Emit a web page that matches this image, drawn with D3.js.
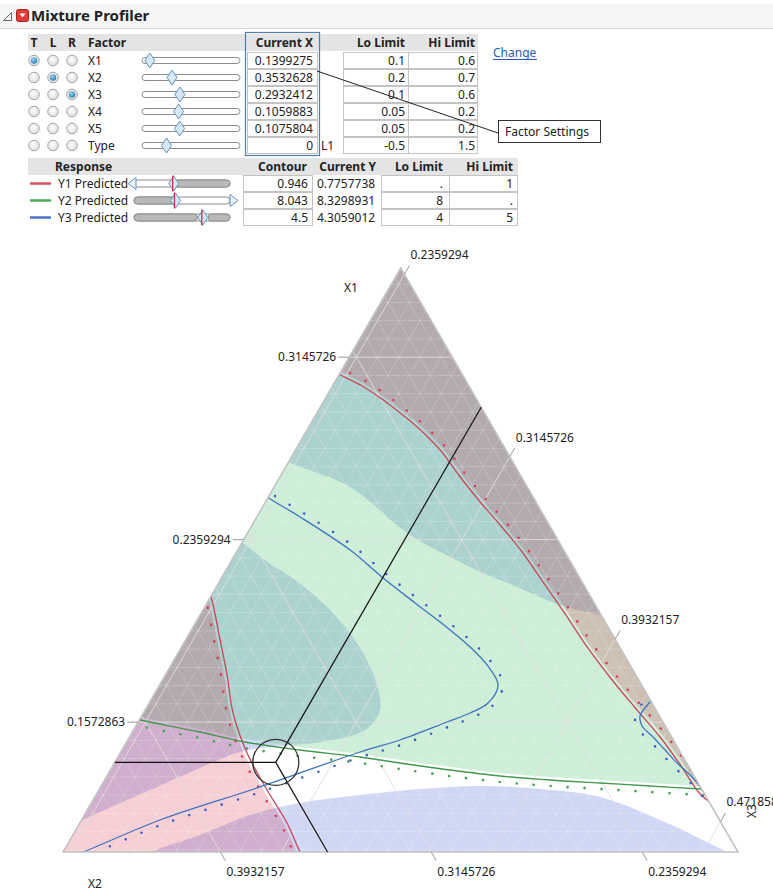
<!DOCTYPE html>
<html>
<head>
<meta charset="utf-8">
<script src="https://cdn.jsdelivr.net/npm/d3@7"></script>
<style>
html, body { margin: 0; padding: 0; background: #fff; }
svg { display: block; }
text { font-family: "Noto Sans", sans-serif; fill: #222; }
</style>
</head>
<body>
<svg id="chart" width="773" height="892"></svg>
<script>
// ---------- factor settings ----------
const factors = ["X1", "X2", "X3", "X4", "X5", "Type"];
const factorCurrent = [0.1399275, 0.3532628, 0.2932412, 0.1059883, 0.1075804, 0];
const factorCurrentText = ["0.1399275", "0.3532628", "0.2932412", "0.1059883", "0.1075804", "0"];
const factorLo = [0.1, 0.2, 0.1, 0.05, 0.05, -0.5];
const factorHi = [0.6, 0.7, 0.6, 0.2, 0.2, 1.5];
const factorRole = ["T", "L", "R", null, null, null];
const roles = ["T", "L", "R"];

// ---------- responses ----------
const responses = ["Y1 Predicted", "Y2 Predicted", "Y3 Predicted"];
const responseColors = ["#d4505c", "#4dab5a", "#4a74c9"];
const contourValues = [0.946, 8.043, 4.5];
const currentY = [0.7757738, 8.3298931, 4.3059012];
const respLo = [null, 8, 4];
const respHi = [1, null, 5];
const respSliderDomain = [[-0.75, 3.35], [7.14, 9.23], [-1.82, 7.0]];

// ---------- ternary window (X1 top, X2 bottom-left, X3 bottom-right) ----------
const X1min = 0.1013, X2min = 0.2002, span = 0.2517;
const ticksX1 = [0.1572863, 0.2359294, 0.3145726];
const ticksX2 = [0.2359294, 0.3145726, 0.3932157];
const ticksX3 = [0.2359294, 0.3145726, 0.3932157, 0.4718588];

// contour curves, points as [X1, X2]
const y1Contour = [[0.30861,0.24794],[0.30689,0.24582],[0.30215,0.23999],[0.29611,0.23517],[0.29051,0.23163],[0.28448,0.22831],[0.27456,0.22469],[0.26293,0.22305],[0.25215,0.22098],[0.24224,0.21848],[0.2306,0.2161],[0.21638,0.21463],[0.20259,0.21332],[0.18966,0.21233],[0.17543,0.21012],[0.1625,0.20726],[0.15087,0.2045],[0.13966,0.20302],[0.12587,0.20171],[0.12156,0.19865]];
const y1ContourLow = [[0.21422,0.3410],[0.20776,0.34274],[0.19267,0.34768],[0.17759,0.35261],[0.16121,0.35856],[0.14397,0.36196],[0.12802,0.36247],[0.1138,0.36212],[0.1013,0.36353],[0.09699,0.36344]];
const y2Contour = [[0.15905,0.3973],[0.15819,0.39475],[0.15302,0.37496],[0.14871,0.36033],[0.14526,0.34155],[0.14225,0.32068],[0.13966,0.30706],[0.13664,0.28992],[0.13406,0.27257],[0.13233,0.25479],[0.13104,0.23679],[0.12975,0.21879],[0.12845,0.20079],[0.12802,0.19653]];
const y3Contour = [[0.25689,0.3014],[0.25344,0.29864],[0.24569,0.29133],[0.23146,0.2798],[0.21939,0.27353],[0.20862,0.26699],[0.19698,0.25975],[0.18966,0.25596],[0.1819,0.2535],[0.17328,0.25371],[0.16552,0.26131],[0.16121,0.27018],[0.15733,0.2807],[0.14957,0.30211],[0.1444,0.3196],[0.12932,0.36444],[0.11509,0.40884],[0.1013,0.44444],[0.09785,0.45474]];
const y3ContourRight = [[0.16897,0.19694],[0.16595,0.20069],[0.15992,0.20744],[0.15561,0.20884],[0.15087,0.20711],[0.14526,0.20544],[0.13966,0.20377],[0.13449,0.20151],[0.12975,0.20015],[0.12587,0.1991]];
// Y3 limit boundaries
const y3LimitUpper = [[0.27155,0.28661],[0.26896,0.28343],[0.25862,0.26623],[0.23879,0.25488],[0.22845,0.24402],[0.22155,0.23517],[0.21552,0.2255],[0.20776,0.21335],[0.20345,0.2002],[0.20215,0.19564]];
const y3LimitInner = [[0.23663,0.32122],[0.23362,0.31788],[0.22629,0.31334],[0.21853,0.30678],[0.2056,0.30019],[0.19052,0.29729],[0.17457,0.29855],[0.1625,0.3031],[0.15388,0.313],[0.14871,0.33237],[0.14656,0.35209],[0.1444,0.36435],[0.1375,0.38272],[0.12802,0.4061],[0.11854,0.42948],[0.11251,0.44369]];
const y3LimitLower = [[0.09699,0.42907],[0.1013,0.41946],[0.10863,0.39716],[0.11725,0.3742],[0.12242,0.35297],[0.12587,0.32887],[0.12845,0.3052],[0.12975,0.28218],[0.12845,0.26046],[0.125,0.23981],[0.1138,0.22043],[0.10346,0.20695],[0.09785,0.19931]];

// ---------- drawing ----------
const svg = d3.select("#chart");
const fmt7 = d3.format(".7f");

// header bar
svg.append("rect").attr("x", 0).attr("y", 4).attr("width", 773).attr("height", 24).attr("fill", "#f6f6f6");
svg.append("line").attr("x1", 0).attr("x2", 773).attr("y1", 28.5).attr("y2", 28.5).attr("stroke", "#d6d6d6");
svg.append("path").attr("d", "M3.5,20.5 L11.5,12.5 L11.5,20.5 Z").attr("fill", "none").attr("stroke", "#666");
svg.append("rect").attr("x", 16.5).attr("y", 9.5).attr("width", 12).attr("height", 12).attr("rx", 2)
  .attr("fill", "#e33b35").attr("stroke", "#a02622");
svg.append("path").attr("d", "M19.5,13.5 L25.5,13.5 L22.5,17.5 Z").attr("fill", "#fff");
svg.append("text").attr("x", 31).attr("y", 21).attr("font-size", 15).attr("font-weight", "bold").text("Mixture Profiler");

// ---------- factor table ----------
const rowH = 17, rowTop0 = 52;
const rowMid = i => rowTop0 + i * rowH + rowH / 2;
svg.append("rect").attr("x", 28).attr("y", 34).attr("width", 450).attr("height", 17).attr("fill", "#e4e4e4");
const boldText = (x, y, anchor, t) => svg.append("text").attr("x", x).attr("y", y).attr("text-anchor", anchor)
  .attr("font-weight", "bold").attr("font-size", 12).text(t);
[["T", 34], ["L", 53], ["R", 72]].forEach(([t, x]) => boldText(x, 47, "middle", t));
boldText(88, 47, "start", "Factor");
boldText(313, 47, "end", "Current X");
boldText(405, 47, "end", "Lo Limit");
boldText(475, 47, "end", "Hi Limit");

const defs = svg.append("defs");
const rg = defs.append("radialGradient").attr("id", "radioFill").attr("cx", "45%").attr("cy", "40%").attr("r", "60%");
rg.append("stop").attr("offset", "0%").attr("stop-color", "#ffffff");
rg.append("stop").attr("offset", "100%").attr("stop-color", "#dcdcdc");
const rs = defs.append("radialGradient").attr("id", "radioSel").attr("cx", "40%").attr("cy", "35%").attr("r", "70%");
rs.append("stop").attr("offset", "0%").attr("stop-color", "#9fd6f2");
rs.append("stop").attr("offset", "100%").attr("stop-color", "#1f79b0");

factors.forEach((f, i) => {
  const cy = rowMid(i);
  roles.forEach((r, j) => {
    const cx = 34 + j * 19;
    svg.append("circle").attr("cx", cx).attr("cy", cy).attr("r", 5.3).attr("fill", "url(#radioFill)").attr("stroke", "#a5a5a5");
    if (factorRole[i] === r) svg.append("circle").attr("cx", cx).attr("cy", cy).attr("r", 3.2).attr("fill", "url(#radioSel)");
  });
  svg.append("text").attr("x", 88).attr("y", cy + 4.3).attr("font-size", 12).text(f);
  // slider
  const sx = d3.scaleLinear().domain([factorLo[i], factorHi[i]]).range([142, 240]);
  svg.append("rect").attr("x", 142).attr("y", cy - 3).attr("width", 98).attr("height", 6).attr("rx", 3)
    .attr("fill", "#fff").attr("stroke", "#8c8c8c");
  const tx = sx(factorCurrent[i]);
  svg.append("path").attr("d", `M${tx},${cy - 7.5} L${tx + 5},${cy} L${tx},${cy + 7.5} L${tx - 5},${cy} Z`)
    .attr("fill", "#d5e8f8").attr("stroke", "#6a92bd");
  // current x cell
  const top = rowTop0 + i * rowH;
  svg.append("rect").attr("x", 247.5).attr("y", top + 0.5).attr("width", 70).attr("height", rowH - 1).attr("fill", "#fff").attr("stroke", "#c4c4c4");
  svg.append("text").attr("x", 313).attr("y", cy + 4.3).attr("text-anchor", "end").attr("font-size", 12).text(factorCurrentText[i]);
  // limits
  svg.append("rect").attr("x", 343.5).attr("y", top + 0.5).attr("width", 65).attr("height", rowH - 1).attr("fill", "#fff").attr("stroke", "#c4c4c4");
  svg.append("rect").attr("x", 408.5).attr("y", top + 0.5).attr("width", 69).attr("height", rowH - 1).attr("fill", "#fff").attr("stroke", "#c4c4c4");
  svg.append("text").attr("x", 405).attr("y", cy + 4.3).attr("text-anchor", "end").attr("font-size", 12).text(String(factorLo[i]));
  svg.append("text").attr("x", 475).attr("y", cy + 4.3).attr("text-anchor", "end").attr("font-size", 12).text(String(factorHi[i]));
});
svg.append("text").attr("x", 321).attr("y", rowMid(5) + 4.3).attr("font-size", 12).text("L1");
svg.append("rect").attr("x", 245.5).attr("y", 32.5).attr("width", 74).attr("height", 123).attr("fill", "none").attr("stroke", "#4f7cba").attr("stroke-width", 1.2);

// Change link
svg.append("text").attr("x", 493).attr("y", 57).attr("font-size", 12).style("fill", "#2a5db0").text("Change");
svg.append("line").attr("x1", 493).attr("x2", 537).attr("y1", 59.5).attr("y2", 59.5).attr("stroke", "#2a5db0");

// Factor Settings callout
svg.append("line").attr("x1", 317).attr("y1", 71).attr("x2", 498).attr("y2", 133).attr("stroke", "#222").attr("stroke-width", 1);
svg.append("rect").attr("x", 498.5).attr("y", 120.5).attr("width", 102).attr("height", 22).attr("fill", "#fff").attr("stroke", "#333");
svg.append("text").attr("x", 505).attr("y", 136).attr("font-size", 12).text("Factor Settings");

// ---------- response table ----------
const rTop0 = 175, rH = 17;
const rMid = i => rTop0 + i * rH + rH / 2;
svg.append("rect").attr("x", 28).attr("y", 158).attr("width", 490).attr("height", 17).attr("fill", "#e4e4e4");
[["Response", 55, "start"], ["Contour", 307, "end"], ["Current Y", 376, "end"], ["Lo Limit", 443, "end"], ["Hi Limit", 513, "end"]]
  .forEach(([t, x, a]) => boldText(x, 171, a, t));

responses.forEach((r, i) => {
  const cy = rMid(i), top = rTop0 + i * rH;
  svg.append("line").attr("x1", 30).attr("x2", 51).attr("y1", cy).attr("y2", cy).attr("stroke", responseColors[i]).attr("stroke-width", 2.5);
  svg.append("text").attr("x", 58).attr("y", cy + 4.3).attr("font-size", 12).text(r);
  // slider with out-of-limit portions in grey
  const sx = d3.scaleLinear().domain(respSliderDomain[i]).range([134, 230]).clamp(true);
  svg.append("rect").attr("x", 134).attr("y", cy - 3.5).attr("width", 96).attr("height", 7).attr("rx", 3.5)
    .attr("fill", "#fff").attr("stroke", "#8c8c8c");
  if (respLo[i] !== null) {
    svg.append("rect").attr("x", 134).attr("y", cy - 3.5).attr("width", sx(respLo[i]) - 134).attr("height", 7).attr("rx", 3.5)
      .attr("fill", "#b9b9b9").attr("stroke", "#8c8c8c");
  }
  if (respHi[i] !== null && sx(respHi[i]) < 229) {
    svg.append("rect").attr("x", sx(respHi[i])).attr("y", cy - 3.5).attr("width", 230 - sx(respHi[i])).attr("height", 7).attr("rx", 3.5)
      .attr("fill", "#b9b9b9").attr("stroke", "#8c8c8c");
  }
  if (respLo[i] === null) {
    svg.append("path").attr("d", `M${128},${cy} L${136},${cy - 6} L${136},${cy + 6} Z`).attr("fill", "#e6f1fb").attr("stroke", "#6a92bd");
  }
  if (respHi[i] === null) {
    svg.append("path").attr("d", `M${238},${cy} L${230},${cy - 6} L${230},${cy + 6} Z`).attr("fill", "#e6f1fb").attr("stroke", "#6a92bd");
  }
  const cx = sx(contourValues[i]);
  svg.append("path").attr("d", `M${cx},${cy - 7.5} L${cx + 5},${cy} L${cx},${cy + 7.5} L${cx - 5},${cy} Z`)
    .attr("fill", "#d5e8f8").attr("stroke", "#6a92bd");
  svg.append("line").attr("x1", cx - 1).attr("x2", cx - 1).attr("y1", cy - 8).attr("y2", cy + 8).attr("stroke", "#c0303f").attr("stroke-width", 1.3);
  // cells
  svg.append("rect").attr("x", 243.5).attr("y", top + 0.5).attr("width", 69).attr("height", rH - 1).attr("fill", "#fff").attr("stroke", "#c4c4c4");
  svg.append("text").attr("x", 308).attr("y", cy + 4.3).attr("text-anchor", "end").attr("font-size", 12).text(String(contourValues[i]));
  svg.append("text").attr("x", 317).attr("y", cy + 4.3).attr("font-size", 12).text(fmt7(currentY[i]));
  svg.append("rect").attr("x", 381.5).attr("y", top + 0.5).attr("width", 68).attr("height", rH - 1).attr("fill", "#fff").attr("stroke", "#c4c4c4");
  svg.append("rect").attr("x", 449.5).attr("y", top + 0.5).attr("width", 68).attr("height", rH - 1).attr("fill", "#fff").attr("stroke", "#c4c4c4");
  svg.append("text").attr("x", 443).attr("y", cy + 4.3).attr("text-anchor", "end").attr("font-size", 12).text(respLo[i] === null ? "." : String(respLo[i]));
  svg.append("text").attr("x", 513).attr("y", cy + 4.3).attr("text-anchor", "end").attr("font-size", 12).text(respHi[i] === null ? "." : String(respHi[i]));
});

// ---------- ternary plot ----------
const T = { left: 63, right: 738, base: 852, top: 268 };
const total = d3.sum(factorCurrent.slice(0, 3));
const X3min = total - X1min - X2min - span;
const yX1 = d3.scaleLinear().domain([X1min, X1min + span]).range([T.base, T.top]);
const xX2 = d3.scaleLinear().domain([X2min, X2min + span]).range([T.right, T.left]);
const SQ3 = Math.sqrt(3);
const proj = ([a, b]) => { const y = yX1(a); return [xX2(b) - (T.base - y) / SQ3, y]; };
const fromX3 = (a, c) => [a, total - a - c];
const V1 = proj([X1min + span, X2min]), V2 = proj([X1min, X2min + span]), V3 = proj([X1min, X2min]);
const triD = `M${V1[0]},${V1[1]}L${V2[0]},${V2[1]}L${V3[0]},${V3[1]}Z`;

const lineGen = d3.line().curve(d3.curveCatmullRom.alpha(0.5));
function offsetPts(pts, d) {
  return pts.map((p, i) => {
    const p0 = pts[Math.max(0, i - 1)], p1 = pts[Math.min(pts.length - 1, i + 1)];
    const dx = p1[0] - p0[0], dy = p1[1] - p0[1], L = Math.hypot(dx, dy) || 1;
    return [p[0] + d * dy / L, p[1] - d * dx / L];
  });
}
const regionPath = (curve, extra) => lineGen(curve) + extra.map(p => `L${p[0]},${p[1]}`).join("") + "Z";
defs.append("clipPath").attr("id", "triClip").append("path").attr("d", triD);

const plot = svg.append("g");
const shade = plot.append("g").attr("clip-path", "url(#triClip)");
const px = arr => arr.map(proj);

// infeasible regions, one translucent layer per response
const layers = [
  { color: "rgb(67,95,215)", opacity: 0.25, paths: [
      regionPath(px(y3LimitUpper), [V1]), regionPath(px(y3LimitInner), []), regionPath(px(y3LimitLower), [])] },
  { color: "rgb(88,198,122)", opacity: 0.3, paths: [regionPath(offsetPts(px(y2Contour), 3), [V1])] },
  { color: "rgb(205,0,30)", opacity: 0.19, paths: [
      regionPath(offsetPts(px(y1Contour), 3), [V1]), regionPath(offsetPts(px(y1ContourLow), -3), [V2])] }
];
layers.forEach(l => l.paths.forEach(d =>
  shade.append("path").attr("d", d).attr("fill", l.color).attr("fill-opacity", l.opacity)));

// grid
const grid = plot.append("g").attr("clip-path", "url(#triClip)");
const step = total / 100;
function gridSegs(vals) {
  const segs = [];
  vals.X1.forEach(v => segs.push([proj(fromX3(v, X3min)), proj([v, X2min])]));
  vals.X2.forEach(v => segs.push([proj([X1min, v]), proj([total - v - X3min, v])]));
  vals.X3.forEach(v => segs.push([proj(fromX3(X1min, v)), proj([total - X2min - v, X2min])]));
  return segs;
}
const minorRange = lo => d3.range(Math.ceil(lo / step), Math.floor((lo + span) / step) + 1).map(k => k * step);
const minor = gridSegs({ X1: minorRange(X1min), X2: minorRange(X2min), X3: minorRange(X3min) });
grid.selectAll("line.minor").data(minor).join("line").attr("class", "minor")
  .attr("x1", d => d[0][0]).attr("y1", d => d[0][1]).attr("x2", d => d[1][0]).attr("y2", d => d[1][1])
  .attr("stroke", "#fff").attr("stroke-opacity", 0.2).attr("stroke-width", 1);
const major = gridSegs({ X1: ticksX1, X2: ticksX2, X3: ticksX3 });
grid.selectAll("line.major").data(major).join("line").attr("class", "major")
  .attr("x1", d => d[0][0]).attr("y1", d => d[0][1]).attr("x2", d => d[1][0]).attr("y2", d => d[1][1])
  .attr("stroke", "#dedada").attr("stroke-opacity", 0.85).attr("stroke-width", 1);

// contour lines with markers on the increasing side
const lines = plot.append("g").attr("clip-path", "url(#triClip)").attr("fill", "none");
const contourDefs = [
  [y1Contour, "#cc4455", "#d63c52", 6],
  [y1ContourLow, "#cc4455", "#d63c52", -6],
  [y2Contour, "#3f9a4c", "#3ea350", -6],
  [y3Contour, "#3f73c0", "#3a5fc8", 5],
  [y3ContourRight, "#3f73c0", "#3a5fc8", -5]
];
contourDefs.forEach(([data, lc, dc, off]) => {
  const p = px(data);
  lines.append("path").attr("d", lineGen(p)).attr("stroke", lc).attr("stroke-width", 1.3);
  lines.append("path").attr("d", lineGen(offsetPts(p, off))).attr("stroke", dc).attr("stroke-width", 2.6)
    .attr("stroke-linecap", "round").attr("stroke-dasharray", "0 17");
});

// triangle border
plot.append("path").attr("d", triD).attr("fill", "none").attr("stroke", "#c3c3c3").attr("stroke-width", 1.6);

// current point crosshair
const cur = [factorCurrent[0], factorCurrent[1]];
const curX3 = factorCurrent[2];
const cp = proj(cur);
const ends = [proj(fromX3(cur[0], X3min)), proj([total - X2min - curX3, X2min]), proj([X1min, cur[1]])];
ends.forEach(e => plot.append("line").attr("x1", cp[0]).attr("y1", cp[1]).attr("x2", e[0]).attr("y2", e[1])
  .attr("stroke", "#111").attr("stroke-width", 1.2));
plot.append("circle").attr("cx", cp[0]).attr("cy", cp[1]).attr("r", 23).attr("fill", "none").attr("stroke", "#333").attr("stroke-width", 1.3);

// axes: ticks and labels
const axisG = plot.append("g").attr("font-size", 12);
ticksX1.forEach(v => {
  const p = proj(fromX3(v, X3min));
  axisG.append("line").attr("x1", p[0] - 11).attr("x2", p[0]).attr("y1", p[1]).attr("y2", p[1]).attr("stroke", "#999");
  axisG.append("text").attr("x", p[0] - 13).attr("y", p[1] + 4.3).attr("text-anchor", "end").text(fmt7(v));
});
ticksX2.forEach(v => {
  const p = proj([X1min, v]);
  const e = [p[0] + 5, p[1] + 8.7];
  axisG.append("line").attr("x1", p[0]).attr("y1", p[1]).attr("x2", e[0]).attr("y2", e[1]).attr("stroke", "#999");
  axisG.append("text").attr("x", e[0] + 1).attr("y", e[1] + 15).text(fmt7(v));
});
ticksX3.forEach(v => {
  const p = proj([total - X2min - v, X2min]);
  const e = [p[0] + 5, p[1] - 8.7];
  axisG.append("line").attr("x1", p[0]).attr("y1", p[1]).attr("x2", e[0]).attr("y2", e[1]).attr("stroke", "#999");
  axisG.append("text").attr("x", e[0] + 1).attr("y", e[1] - 6.5).text(fmt7(v));
});
axisG.append("text").attr("x", 351).attr("y", 292).attr("text-anchor", "middle").text("X1");
axisG.append("text").attr("x", 95).attr("y", 888).attr("text-anchor", "middle").text("X2");
axisG.append("text").attr("transform", "translate(756,811) rotate(-90)").attr("text-anchor", "middle").text("X3");
</script>
</body>
</html>
